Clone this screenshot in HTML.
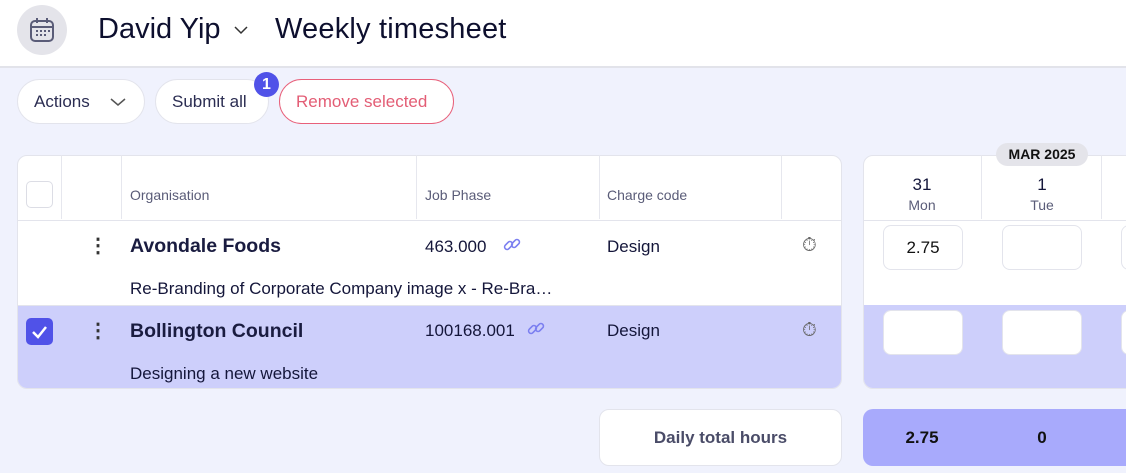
<!DOCTYPE html>
<html><head><style>
*{box-sizing:border-box;margin:0;padding:0}
body{width:1126px;height:473px;overflow:hidden;background:#f0f2fd;font-family:"Liberation Sans",sans-serif;position:relative;color:#14163a}
.a{position:absolute}
.hdr{left:0;top:0;width:1126px;height:68px;background:#fff;border-bottom:2px solid #e2e3ea}
.btn{position:absolute;top:79px;height:45px;border-radius:23px;background:#fff;border:1px solid #e3e4ec;font-size:17px;line-height:43px;color:#2b2d52;padding-left:16px}
.t{position:absolute;white-space:nowrap}
.vl{position:absolute;top:155px;height:64px;width:1px;background:#e6e7ee}
.inp{position:absolute;width:80px;height:45px;background:#fff;border:1px solid #e3e4ec;border-radius:8px;font-size:17px;text-align:center;line-height:43px;color:#111}
</style></head><body>
<div class="a hdr"></div>
<div class="a" style="left:17px;top:5px;width:50px;height:50px;border-radius:25px;background:#e4e4ea"></div>
<svg class="a" style="left:28px;top:16px" width="28" height="28" viewBox="0 0 28 28"><rect x="3" y="5" width="22" height="20" rx="4" fill="none" stroke="#5a5c78" stroke-width="2"/><line x1="3" y1="11" x2="25" y2="11" stroke="#5a5c78" stroke-width="2"/><line x1="9" y1="2" x2="9" y2="7" stroke="#5a5c78" stroke-width="2"/><line x1="19" y1="2" x2="19" y2="7" stroke="#5a5c78" stroke-width="2"/><g fill="#5a5c78"><rect x="8" y="14" width="2" height="2"/><rect x="12" y="14" width="2" height="2"/><rect x="16" y="14" width="2" height="2"/><rect x="20" y="14" width="2" height="2"/><rect x="8" y="18" width="2" height="2"/><rect x="12" y="18" width="2" height="2"/><rect x="16" y="18" width="2" height="2"/></g></svg>
<div class="t" style="left:98px;top:13px;font-size:29px;color:#0d0f2e">David Yip</div>
<svg class="a" style="left:234px;top:26px" width="14" height="9"><polyline points="1,1 7,7 13,1" fill="none" stroke="#333" stroke-width="1.5"/></svg>
<div class="t" style="left:275px;top:13px;font-size:29px;color:#0d0f2e;letter-spacing:0.2px">Weekly timesheet</div>

<div class="btn" style="left:17px;width:128px">Actions<svg style="position:absolute;left:92px;top:18px" width="16" height="9"><polyline points="1,1 8,7 15,1" fill="none" stroke="#555" stroke-width="1.5"/></svg></div>
<div class="btn" style="left:155px;width:114px">Submit all</div>
<div class="a" style="left:254px;top:72px;width:25px;height:25px;border-radius:13px;background:#5052e8;color:#fff;font-size:16px;font-weight:bold;text-align:center;line-height:25px">1</div>
<div class="btn" style="left:279px;width:175px;border-color:#e8607a;color:#e35d75">Remove selected</div>

<div class="a" style="left:17px;top:155px;width:825px;height:234px;background:#fff;border:1px solid #e3e4ec;border-radius:10px;overflow:hidden">
<div class="a" style="left:0;top:149px;width:825px;height:84px;background:#cdcffb"></div>
<div class="a" style="left:0;top:64px;width:825px;height:1px;background:#e3e4ec"></div>
<div class="a" style="left:0;top:149px;width:825px;height:1px;background:#e3e4ec"></div>
</div>
<div class="vl" style="left:61px"></div><div class="vl" style="left:121px"></div><div class="vl" style="left:416px"></div><div class="vl" style="left:599px"></div><div class="vl" style="left:781px"></div>
<div class="a" style="left:26px;top:181px;width:27px;height:27px;border:1px solid #dcdde5;border-radius:5px;background:#fff"></div>
<div class="t" style="left:130px;top:187px;font-size:14px;color:#5a5c78">Organisation</div>
<div class="t" style="left:425px;top:187px;font-size:14px;color:#5a5c78">Job Phase</div>
<div class="t" style="left:607px;top:187px;font-size:14px;color:#5a5c78">Charge code</div>

<div class="t" style="left:88px;top:233px;font-size:20px;font-weight:bold;color:#333">⋮</div>
<div class="t" style="left:130px;top:235px;font-size:19.5px;font-weight:bold;color:#1a1c40">Avondale Foods</div>
<div class="t" style="left:425px;top:237px;font-size:17px">463.000</div>
<svg class="a" style="left:503px;top:236px" width="18" height="18" viewBox="0 0 18 18"><g fill="none" stroke="#7b7ff0" stroke-width="1.6"><rect x="1" y="7" width="9" height="5" rx="2.5" transform="rotate(-45 5.5 9.5)"/><rect x="8" y="5" width="9" height="5" rx="2.5" transform="rotate(-45 12.5 7.5)"/></g></svg>
<div class="t" style="left:607px;top:237px;font-size:17px">Design</div>
<div class="t" style="left:802px;top:235px;font-size:19px;color:#666">⏱</div>
<div class="t" style="left:130px;top:279px;font-size:17px">Re-Branding of Corporate Company image x - Re-Bra…</div>

<div class="a" style="left:26px;top:318px;width:27px;height:27px;border-radius:5px;background:#5052e8"><svg width="27" height="27"><polyline points="7,14 12,19 20,9" fill="none" stroke="#fff" stroke-width="2.5"/></svg></div>
<div class="t" style="left:88px;top:318px;font-size:20px;font-weight:bold;color:#333">⋮</div>
<div class="t" style="left:130px;top:320px;font-size:19.5px;font-weight:bold;color:#1a1c40">Bollington Council</div>
<div class="t" style="left:425px;top:321px;font-size:17px">100168.001</div>
<svg class="a" style="left:527px;top:320px" width="18" height="18" viewBox="0 0 18 18"><g fill="none" stroke="#7b7ff0" stroke-width="1.6"><rect x="1" y="7" width="9" height="5" rx="2.5" transform="rotate(-45 5.5 9.5)"/><rect x="8" y="5" width="9" height="5" rx="2.5" transform="rotate(-45 12.5 7.5)"/></g></svg>
<div class="t" style="left:607px;top:321px;font-size:17px">Design</div>
<div class="t" style="left:802px;top:320px;font-size:19px;color:#666">⏱</div>
<div class="t" style="left:130px;top:364px;font-size:17px">Designing a new website</div>

<div class="a" style="left:863px;top:155px;width:280px;height:234px;background:#fff;border:1px solid #e3e4ec;border-radius:10px;overflow:hidden">
<div class="a" style="left:0;top:149px;width:280px;height:84px;background:#cdcffb"></div>
<div class="a" style="left:0;top:64px;width:280px;height:1px;background:#e3e4ec"></div>
</div>
<div class="vl" style="left:981px"></div><div class="vl" style="left:1101px"></div>
<div class="a" style="left:996px;top:143px;width:92px;height:23px;border-radius:12px;background:#e4e4ea;font-size:14px;font-weight:bold;text-align:center;line-height:23px;color:#111">MAR 2025</div>
<div class="t" style="left:892px;width:60px;text-align:center;top:175px;font-size:17px">31</div>
<div class="t" style="left:892px;width:60px;text-align:center;top:197px;font-size:14px;color:#5a5c78">Mon</div>
<div class="t" style="left:1012px;width:60px;text-align:center;top:175px;font-size:17px">1</div>
<div class="t" style="left:1012px;width:60px;text-align:center;top:197px;font-size:14px;color:#5a5c78">Tue</div>
<div class="inp" style="left:883px;top:225px">2.75</div>
<div class="inp" style="left:1002px;top:225px"></div>
<div class="inp" style="left:1121px;top:225px"></div>
<div class="inp" style="left:883px;top:310px"></div>
<div class="inp" style="left:1002px;top:310px"></div>
<div class="inp" style="left:1121px;top:310px"></div>

<div class="a" style="left:599px;top:409px;width:243px;height:57px;background:#fff;border:1px solid #e3e4ec;border-radius:10px;font-size:17px;font-weight:bold;color:#4a4c68;text-align:center;line-height:55px">Daily total hours</div>
<div class="a" style="left:863px;top:409px;width:280px;height:57px;background:#a8aafc;border-radius:10px"></div>
<div class="t" style="left:892px;width:60px;text-align:center;top:428px;font-size:17px;font-weight:bold;color:#111">2.75</div>
<div class="t" style="left:1012px;width:60px;text-align:center;top:428px;font-size:17px;font-weight:bold;color:#111">0</div>
</body></html>
